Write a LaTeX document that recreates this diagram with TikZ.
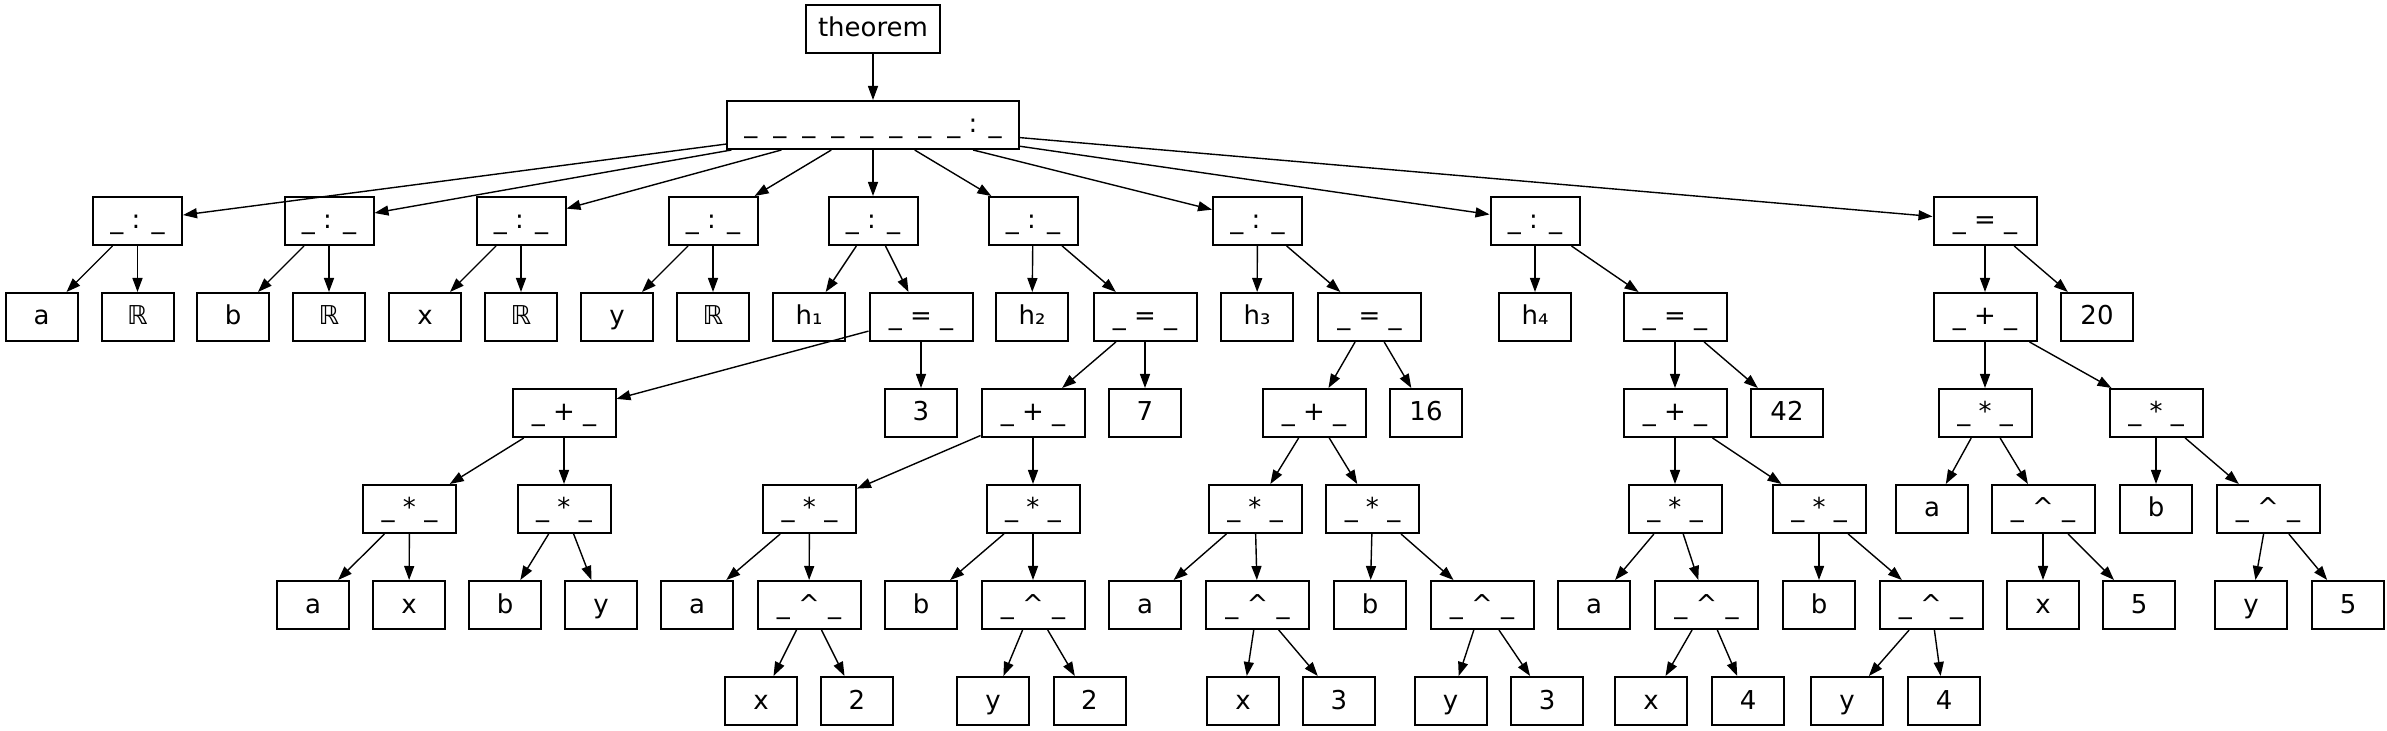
\documentclass[tikz,border=0pt]{standalone}
\usepackage{fontspec}
\setmainfont{DejaVu Sans}
\usetikzlibrary{arrows.meta}
\begin{document}
\begin{tikzpicture}[x=0.5pt,y=-0.5pt,
  nbox/.style={draw, line width=1pt, rectangle, inner sep=0pt, minimum height=24pt,
    text height=9pt, text depth=1pt, font=\fontsize{13pt}{15pt}\selectfont},
  leaf/.style={nbox, minimum width=36pt},
  colonop/.style={nbox, minimum width=44.5pt},
  eqop/.style={nbox, minimum width=51.5pt},
  mulop/.style={nbox, minimum width=46.5pt},
  edge/.style={line width=0.7pt, -{Triangle[length=7pt,width=5pt]}}]
\useasboundingbox (0,0) rectangle (2387,731);
\def\CO{\_ : \_}
\def\EQ{\_ = \_}
\def\PL{\_ + \_}
\def\MU{\_ * \_}
\def\PW{\_ \^{} \_}
% row 0,1
\node[nbox, minimum width=67pt] (thm) at (873,29) {theorem};
\node[nbox, minimum width=146pt] (root) at (873,125) {\_\hspace{8pt}\_\hspace{8pt}\_\hspace{8pt}\_\hspace{8pt}\_\hspace{8pt}\_\hspace{8pt}\_\hspace{8pt}\_ : \_};
% row 2
\node[colonop] (c1) at (137.5,221) {\CO};
\node[colonop] (c2) at (329,221) {\CO};
\node[colonop] (c3) at (521,221) {\CO};
\node[colonop] (c4) at (713,221) {\CO};
\node[colonop] (c5) at (873,221) {\CO};
\node[colonop] (c6) at (1033,221) {\CO};
\node[colonop] (c7) at (1257.5,221) {\CO};
\node[colonop] (c8) at (1535,221) {\CO};
\node[eqop] (e9) at (1985,221) {\EQ};
% row 3
\node[leaf] (a1) at (41.5,317) {a};
\node[leaf] (r1) at (137.5,317) {ℝ};
\node[leaf] (b2) at (233,317) {b};
\node[leaf] (r2) at (329,317) {ℝ};
\node[leaf] (x3) at (425,317) {x};
\node[leaf] (r3) at (521,317) {ℝ};
\node[leaf] (y4) at (617,317) {y};
\node[leaf] (r4) at (713,317) {ℝ};
\node[leaf] (h1) at (809,317) {h₁};
\node[eqop] (eq5) at (921,317) {\EQ};
\node[leaf] (h2) at (1032,317) {h₂};
\node[eqop] (eq6) at (1145,317) {\EQ};
\node[leaf] (h3) at (1257,317) {h₃};
\node[eqop] (eq7) at (1369.5,317) {\EQ};
\node[leaf] (h4) at (1535,317) {h₄};
\node[eqop] (eq8) at (1675,317) {\EQ};
\node[eqop] (pl9) at (1985,317) {\PL};
\node[leaf] (n20) at (2097,317) {20};
% row 4
\node[eqop] (pl5) at (564,413) {\PL};
\node[leaf] (n3) at (921,413) {3};
\node[eqop] (pl6) at (1033,413) {\PL};
\node[leaf] (n7) at (1145,413) {7};
\node[eqop] (pl7) at (1314,413) {\PL};
\node[leaf] (n16) at (1426,413) {16};
\node[eqop] (pl8) at (1675,413) {\PL};
\node[leaf] (n42) at (1787,413) {42};
\node[mulop] (m9a) at (1985,413) {\MU};
\node[mulop] (m9b) at (2156,413) {\MU};
% row 5
\node[mulop] (m5a) at (409.5,509) {\MU};
\node[mulop] (m5b) at (564,509) {\MU};
\node[mulop] (m6a) at (809.5,509) {\MU};
\node[mulop] (m6b) at (1033,509) {\MU};
\node[mulop] (m7a) at (1255,509) {\MU};
\node[mulop] (m7b) at (1372.5,509) {\MU};
\node[mulop] (m8a) at (1675,509) {\MU};
\node[mulop] (m8b) at (1819,509) {\MU};
\node[leaf] (a9) at (1932,509) {a};
\node[eqop] (p9a) at (2043,509) {\PW};
\node[leaf] (b9) at (2156,509) {b};
\node[eqop] (p9b) at (2268,509) {\PW};
% row 6
\node[leaf] (a5) at (313,605) {a};
\node[leaf] (x5) at (409,605) {x};
\node[leaf] (b5) at (505,605) {b};
\node[leaf] (y5) at (601,605) {y};
\node[leaf] (a6) at (697,605) {a};
\node[eqop] (p6a) at (809,605) {\PW};
\node[leaf] (b6) at (921,605) {b};
\node[eqop] (p6b) at (1033,605) {\PW};
\node[leaf] (a7) at (1145,605) {a};
\node[eqop] (p7a) at (1257.5,605) {\PW};
\node[leaf] (b7) at (1370,605) {b};
\node[eqop] (p7b) at (1482,605) {\PW};
\node[leaf] (a8) at (1594,605) {a};
\node[eqop] (p8a) at (1706.5,605) {\PW};
\node[leaf] (b8) at (1819,605) {b};
\node[eqop] (p8b) at (1931,605) {\PW};
\node[leaf] (x9) at (2043,605) {x};
\node[leaf] (f9a) at (2139,605) {5};
\node[leaf] (y9) at (2251,605) {y};
\node[leaf] (f9b) at (2348,605) {5};
% row 7
\node[leaf] (x6) at (761,701) {x};
\node[leaf] (t6a) at (857,701) {2};
\node[leaf] (y6) at (993,701) {y};
\node[leaf] (t6b) at (1089.5,701) {2};
\node[leaf] (x7) at (1243,701) {x};
\node[leaf] (t7a) at (1339,701) {3};
\node[leaf] (y7) at (1450.5,701) {y};
\node[leaf] (t7b) at (1547,701) {3};
\node[leaf] (x8) at (1651,701) {x};
\node[leaf] (t8a) at (1748,701) {4};
\node[leaf] (y8) at (1847,701) {y};
\node[leaf] (t8b) at (1944,701) {4};
% edges
\draw[edge] (thm) -- (root);
\foreach \c in {c1,c2,c3,c4,c5,c6,c7,c8,e9} \draw[edge] (root) -- (\c);
\foreach \p/\c in {c1/a1,c1/r1,c2/b2,c2/r2,c3/x3,c3/r3,c4/y4,c4/r4,
  c5/h1,c5/eq5,c6/h2,c6/eq6,c7/h3,c7/eq7,c8/h4,c8/eq8,e9/pl9,e9/n20,
  eq5/pl5,eq5/n3,pl5/m5a,pl5/m5b,m5a/a5,m5a/x5,m5b/b5,m5b/y5,
  eq6/pl6,eq6/n7,pl6/m6a,pl6/m6b,m6a/a6,m6a/p6a,p6a/x6,p6a/t6a,m6b/b6,m6b/p6b,p6b/y6,p6b/t6b,
  eq7/pl7,eq7/n16,pl7/m7a,pl7/m7b,m7a/a7,m7a/p7a,p7a/x7,p7a/t7a,m7b/b7,m7b/p7b,p7b/y7,p7b/t7b,
  eq8/pl8,eq8/n42,pl8/m8a,pl8/m8b,m8a/a8,m8a/p8a,p8a/x8,p8a/t8a,m8b/b8,m8b/p8b,p8b/y8,p8b/t8b,
  pl9/m9a,pl9/m9b,m9a/a9,m9a/p9a,p9a/x9,p9a/f9a,m9b/b9,m9b/p9b,p9b/y9,p9b/f9b}
  \draw[edge] (\p) -- (\c);
\end{tikzpicture}
\end{document}
